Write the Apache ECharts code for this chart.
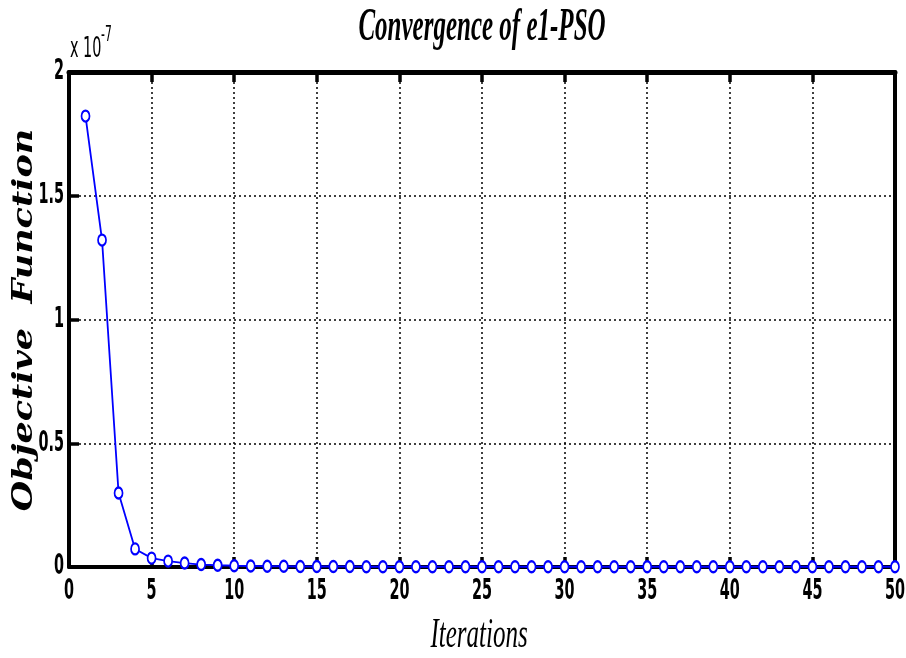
<!DOCTYPE html>
<html><head><meta charset="utf-8">
<script src="https://cdn.jsdelivr.net/npm/echarts@6/dist/echarts.min.js"></script>
<style>html,body{margin:0;padding:0;background:#fff}#c{width:906px;height:658px}</style>
</head><body><div id="c"></div>
<script>
const iterations = [1,2,3,4,5,6,7,8,9,10,11,12,13,14,15,16,17,18,19,20,21,22,23,24,25,26,27,28,29,30,31,32,33,34,35,36,37,38,39,40,41,42,43,44,45,46,47,48,49,50];
const objective = [1.822,1.321,0.299,0.073,0.036,0.024,0.016,0.010,0.007,0.005,0.004,0.003,0.003,0.002,0.002,0.002,0.002,0.001,0.001,0.001,0.001,0.001,0.001,0.001,0.001,0.001,0.001,0.001,0.001,0.001,0.001,0.001,0.001,0.001,0.001,0.001,0.001,0.001,0.001,0.001,0.001,0.001,0.001,0.001,0.001,0.001,0.001,0.001,0.001,0.001];
const xTickValues = [0,5,10,15,20,25,30,35,40,45,50];
const xTickLabels = ['0','5','10','15','20','25','30','35','40','45','50'];
const yTickValues = [0,0.5,1,1.5,2];
const yTickLabels = ['0','0.5','1','1.5','2'];
const titleText = 'Convergence of e1-PSO';
const xName = 'Iterations';
const yName = 'Objective  Function';
const expBase = 'x 10';
const expPower = '-7';

const chart = echarts.init(document.getElementById('c'));
chart.setOption({
  animation:false,
  grid:{left:69,right:11,top:72,bottom:91},
  xAxis:[{
    type:'value',min:0,max:50,interval:5,position:'bottom',
    axisLine:{onZero:false,lineStyle:{color:'#000',width:4}},
    axisTick:{inside:true,length:10,lineStyle:{color:'#000',width:3.5}},
    axisLabel:{show:false},
    splitLine:{show:true,lineStyle:{color:'#000',type:[2,3],width:1.5}}
  },{
    type:'value',min:0,max:50,interval:5,position:'top',
    axisLine:{onZero:false,lineStyle:{color:'#000',width:5}},
    axisTick:{inside:true,length:10,lineStyle:{color:'#000',width:3.5}},
    axisLabel:{show:false},splitLine:{show:false}
  }],
  yAxis:[{
    type:'value',min:0,max:2,interval:0.5,
    axisLine:{show:true,onZero:false,lineStyle:{color:'#000',width:4}},
    axisTick:{show:true,inside:true,length:10,lineStyle:{color:'#000',width:3.5}},
    axisLabel:{show:false},
    splitLine:{show:true,lineStyle:{color:'#000',type:[2,3],width:1.5}}
  },{
    type:'value',min:0,max:2,interval:0.5,position:'right',
    axisLine:{show:true,onZero:false,lineStyle:{color:'#000',width:4}},
    axisTick:{show:false},axisLabel:{show:false},splitLine:{show:false}
  }],
  series:[{
    type:'line',
    data:iterations.map((x,i)=>[x,objective[i]]),
    symbol:'emptyCircle',symbolSize:[8,11],
    lineStyle:{color:'#0000ff',width:1.8},
    itemStyle:{color:'#0000ff',borderWidth:1.8},
    z:5
  }]
});

const x0 = chart.convertToPixel({xAxisIndex:0}, 0);
const y0 = chart.convertToPixel({yAxisIndex:0}, 0);
const tickFont = 'bold 16px "DejaVu Sans Condensed",sans-serif';
const graphics = [
  {type:'text',x:482,y:28,scaleY:1.85,style:{text:titleText,font:'italic bold 25px "Liberation Serif",serif',fill:'#000',align:'center',verticalAlign:'middle'}},
  {type:'text',x:479,y:636,scaleY:1.7,style:{text:xName,font:'italic 25px "Liberation Serif",serif',fill:'#000',align:'center',verticalAlign:'middle'}},
  {type:'text',x:25,y:320,rotation:Math.PI/2,scaleX:1.25,style:{text:yName,font:'italic bold 28px "DejaVu Serif",serif',fill:'#000',align:'center',verticalAlign:'middle'}},
  {type:'text',x:70,y:50,scaleY:1.8,style:{text:expBase,font:'16px "DejaVu Sans Condensed",sans-serif',fill:'#000',align:'left',verticalAlign:'middle'}},
  {type:'text',x:101,y:46,scaleY:1.7,style:{text:expPower,font:'12px "DejaVu Sans Condensed",sans-serif',fill:'#000',align:'left',verticalAlign:'bottom'}}
];
xTickValues.forEach((v,i)=>{
  graphics.push({type:'text',x:chart.convertToPixel({xAxisIndex:0}, v),y:y0+25,scaleY:1.75,
    style:{text:xTickLabels[i],font:tickFont,fill:'#000',align:'center',verticalAlign:'middle'}});
});
yTickValues.forEach((v,i)=>{
  graphics.push({type:'text',x:x0-5,y:chart.convertToPixel({yAxisIndex:0}, v),scaleY:1.75,
    style:{text:yTickLabels[i],font:tickFont,fill:'#000',align:'right',verticalAlign:'middle'}});
});
chart.setOption({graphic:graphics});
</script></body></html>
